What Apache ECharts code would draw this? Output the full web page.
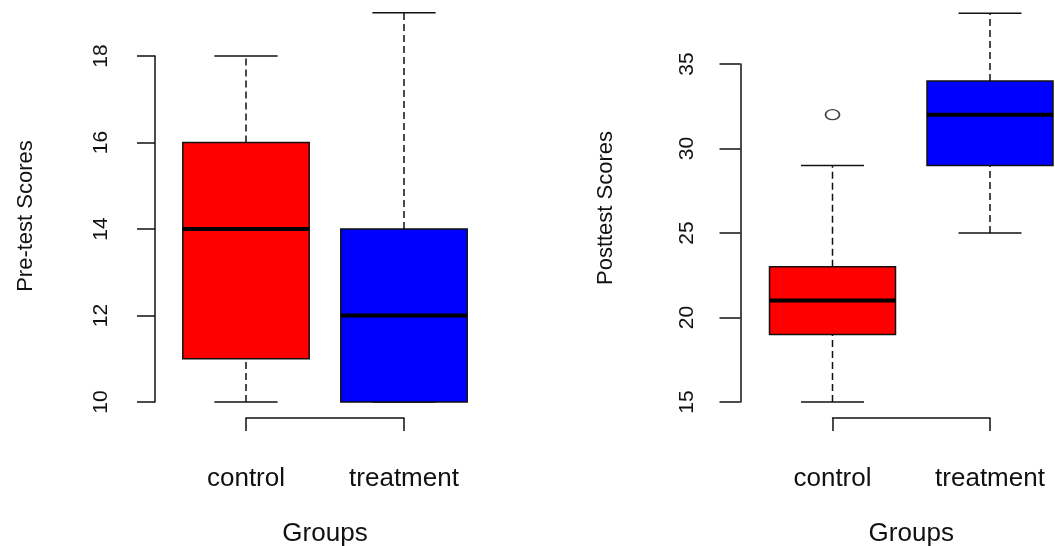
<!DOCTYPE html>
<html>
<head>
<meta charset="utf-8">
<script src="https://cdn.jsdelivr.net/npm/echarts@6/dist/echarts.min.js"></script>
<style>
html,body{margin:0;padding:0;background:#fff;}
#chart{width:1055px;height:546px;}
</style>
</head>
<body>
<div id="chart"></div>
<script>
// ---- data ----
const categories = ['control', 'treatment'];
const boxColors = ['#ff0000', '#0000ff'];
// [min, Q1, median, Q3, max]
const preControl = [10, 11, 14, 16, 18];
const preTreatment = [10, 10, 12, 14, 19];
const postControl = [15, 19, 21, 23, 29];
const postTreatment = [25, 29, 32, 34, 38];
const postOutliersControl = [32];
const preTicks = [10, 12, 14, 16, 18];
const postTicks = [15, 20, 25, 30, 35];
const xTitle = 'Groups';
const preTitle = 'Pre-test Scores';
const postTitle = 'Posttest Scores';

const FONT = '"Liberation Sans", Arial, sans-serif';
const INK = '#111';

function boxData(a, b) {
  return [
    { value: [1].concat(a), itemStyle: { color: boxColors[0] } },
    { value: [2].concat(b), itemStyle: { color: boxColors[1] } }
  ];
}

function renderBox(params, api) {
  const x = api.value(0);
  const mn = api.value(1), q1 = api.value(2), md = api.value(3), q3 = api.value(4), mx = api.value(5);
  const color = api.visual('color');
  const p = (xx, yy) => api.coord([xx, yy]);
  const children = [];
  const dash = { stroke: INK, lineWidth: 1.5, lineDash: [7, 4] };
  const solid = { stroke: INK, lineWidth: 1.5 };
  if (mx > q3) {
    const a = p(x, q3), b = p(x, mx);
    children.push({ type: 'line', shape: { x1: a[0], y1: a[1], x2: b[0], y2: b[1] }, style: dash });
  }
  if (mn < q1) {
    const a = p(x, mn), b = p(x, q1);
    children.push({ type: 'line', shape: { x1: a[0], y1: a[1], x2: b[0], y2: b[1] }, style: dash });
  }
  [mn, mx].forEach(v => {
    const a = p(x - 0.2, v), b = p(x + 0.2, v);
    children.push({ type: 'line', shape: { x1: a[0], y1: a[1], x2: b[0], y2: b[1] }, style: solid });
  });
  const tl = p(x - 0.4, q3), br = p(x + 0.4, q1);
  children.push({ type: 'rect', shape: { x: tl[0], y: tl[1], width: br[0] - tl[0], height: br[1] - tl[1] },
    style: { fill: color, stroke: INK, lineWidth: 1.5 } });
  const m1 = p(x - 0.4, md), m2 = p(x + 0.4, md);
  children.push({ type: 'line', shape: { x1: m1[0], y1: m1[1], x2: m2[0], y2: m2[1] }, style: { stroke: '#000', lineWidth: 4 } });
  return { type: 'group', children: children };
}

function xAxisCfg(gridIndex) {
  return {
    gridIndex: gridIndex, type: 'value', min: 1, max: 2, interval: 1, position: 'bottom', offset: 16,
    axisLine: { show: true, lineStyle: { color: INK, width: 1.5 } },
    axisTick: { show: true, inside: false, length: 13, lineStyle: { color: INK, width: 1.5 } },
    axisLabel: { show: true, margin: 48, fontSize: 26, fontFamily: FONT, color: INK,
      formatter: v => categories[Math.round(v) - 1] || '' },
    splitLine: { show: false },
    name: xTitle, nameLocation: 'middle', nameGap: 103,
    nameTextStyle: { fontSize: 26, fontFamily: FONT, color: INK }
  };
}

function yAxisCfg(gridIndex, ticks, title, offset, tickLen, nameGap, namePad) {
  const step = ticks[1] - ticks[0];
  return {
    gridIndex: gridIndex, type: 'value', min: ticks[0], max: ticks[ticks.length - 1], interval: step,
    position: 'left', offset: offset,
    axisLine: { show: true, lineStyle: { color: INK, width: 1.5 } },
    axisTick: { show: true, inside: false, length: tickLen, lineStyle: { color: INK, width: 1.5 } },
    axisLabel: { show: true, rotate: 90, margin: 43, fontSize: 21, fontFamily: FONT, color: INK,
      showMinLabel: true, showMaxLabel: true },
    splitLine: { show: false },
    name: title, nameLocation: 'middle', nameRotate: 90, nameGap: nameGap,
    nameTextStyle: { fontSize: 22, fontFamily: FONT, color: INK, padding: [0, 0, 0, namePad] }
  };
}

const chart = echarts.init(document.getElementById('chart'), null, { renderer: 'canvas' });
chart.setOption({
  backgroundColor: '#fff',
  animation: false,
  grid: [
    { left: 246, top: 56, width: 158, height: 346, outerBoundsMode: 'none', containLabel: false },
    { left: 832.5, top: 64, width: 157.5, height: 338, outerBoundsMode: 'none', containLabel: false }
  ],
  xAxis: [xAxisCfg(0), xAxisCfg(1)],
  yAxis: [
    yAxisCfg(0, preTicks, preTitle, 91, 18, 118, 26),
    yAxisCfg(1, postTicks, postTitle, 92, 21, 124, 50)
  ],
  series: [
    { type: 'custom', xAxisIndex: 0, yAxisIndex: 0, clip: false, renderItem: renderBox,
      encode: { x: 0, y: [1, 2, 3, 4, 5] }, data: boxData(preControl, preTreatment) },
    { type: 'custom', xAxisIndex: 1, yAxisIndex: 1, clip: false, renderItem: renderBox,
      encode: { x: 0, y: [1, 2, 3, 4, 5] }, data: boxData(postControl, postTreatment) },
    { type: 'scatter', xAxisIndex: 1, yAxisIndex: 1, clip: false, symbol: 'circle', symbolSize: [14, 10],
      itemStyle: { color: '#fff', borderColor: INK, borderWidth: 1.5 },
      data: postOutliersControl.map(v => [1, v]) }
  ]
});
</script>
</body>
</html>
